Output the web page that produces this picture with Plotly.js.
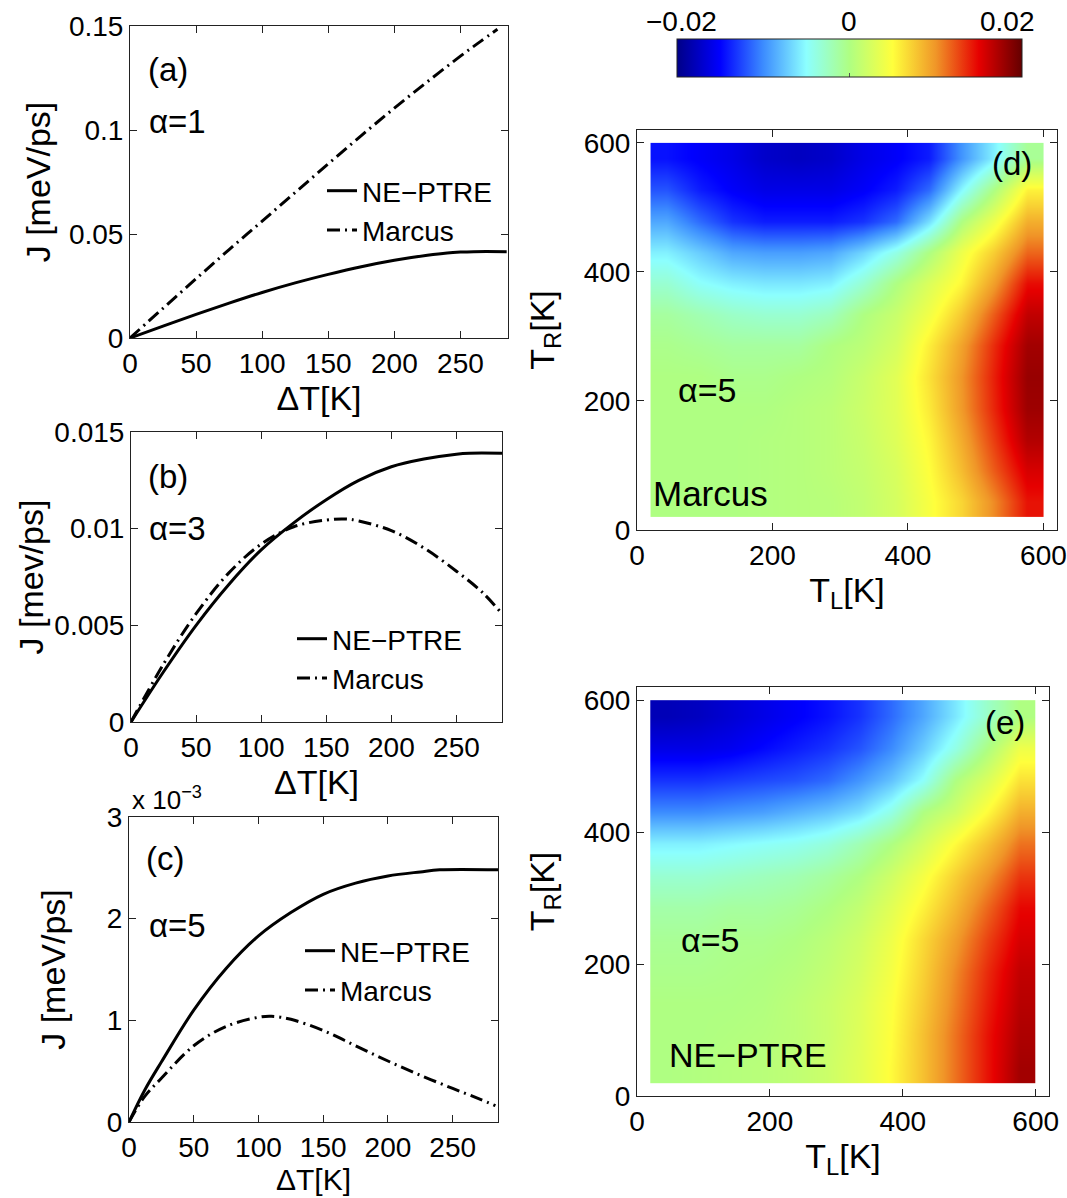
<!DOCTYPE html>
<html><head><meta charset="utf-8">
<script src="https://cdn.plot.ly/plotly-3.0.1.min.js"></script>
<style>html,body{margin:0;padding:0;background:#fff}#chart{width:1067px;height:1198px}</style>
</head><body><div id="chart"></div>
<script>
// ---------- panel (a), alpha = 1 ----------
const dTa_ne = [0, 25, 50, 75, 100, 125, 150, 175, 200, 225, 240, 250, 260, 285];
const Ja_ne  = [0, 0.0057, 0.0114, 0.0168, 0.0219, 0.0265, 0.0306, 0.0343, 0.0374, 0.0398, 0.0409, 0.0413, 0.0415, 0.0415];
const dTa_m  = [0, 25, 50, 75, 100, 125, 150, 175, 200, 225, 250, 265, 278];
const Ja_m   = [0, 0.0143, 0.0285, 0.0425, 0.0562, 0.0700, 0.0837, 0.0973, 0.1105, 0.1232, 0.1355, 0.1425, 0.1484];
// ---------- panel (b), alpha = 3 ----------
const dTb_ne = [0, 25, 50, 75, 100, 125, 150, 175, 200, 225, 250, 260, 285];
const Jb_ne  = [0, 0.0026, 0.0050, 0.0071, 0.0089, 0.0103, 0.0115, 0.0125, 0.0132, 0.0136, 0.01385, 0.0139, 0.0139];
const dTb_m  = [0, 25, 50, 75, 100, 125, 150, 165, 175, 200, 225, 250, 270, 285];
const Jb_m   = [0, 0.0030, 0.0056, 0.0077, 0.0092, 0.0101, 0.01045, 0.0105, 0.0104, 0.0099, 0.0090, 0.0078, 0.0067, 0.0056];
// ---------- panel (c), alpha = 5 ----------
const dTc_ne = [0, 12, 25, 50, 75, 100, 125, 150, 175, 200, 225, 240, 285];
const Jc_ne  = [0, 0.00031, 0.00059, 0.00110, 0.00151, 0.00183, 0.00206, 0.00224, 0.00235, 0.00242, 0.00246, 0.00248, 0.00248];
const dTc_m  = [0, 12, 25, 50, 75, 100, 110, 125, 150, 175, 200, 225, 250, 270, 283];
const Jc_m   = [0, 0.00025, 0.00043, 0.00075, 0.00094, 0.00103, 0.00104, 0.00101, 0.00090, 0.00075, 0.00060, 0.00046, 0.00033, 0.00023, 0.00016];
const Jc_tickvals = [0, 0.001, 0.002, 0.003];
const Jc_ticktext = ['0', '1', '2', '3'];

// ---------- heat maps (d) Marcus, (e) NE-PTRE : cell edges in K ----------
const TL_edges = [20, 68, 117, 165, 213, 262, 310, 358, 407, 455, 503, 552, 600];
const TR_edges = [20, 68, 117, 165, 213, 262, 310, 358, 407, 455, 503, 552, 600];
// rows: T_R from low to high, columns: T_L from low to high
const Z_marcus = [
 [0,0,0,0.0002,0.0004,0.0006,0.0012,0.0024,0.0046,0.0070,0.0104,0.0144],
 [0,0,0,0.0002,0.0004,0.0008,0.0014,0.0026,0.0050,0.0082,0.0120,0.0156],
 [0,0,0,0.0002,0.0004,0.0008,0.0016,0.0030,0.0054,0.0090,0.0130,0.0170],
 [0,0,0,0,0.0004,0.0008,0.0018,0.0032,0.0060,0.0098,0.0138,0.0178],
 [0,0,-0.0004,-0.0004,0,0.0004,0.0016,0.0032,0.0064,0.0100,0.0140,0.0180],
 [-0.0004,-0.0008,-0.0012,-0.0012,-0.0012,0,0.0008,0.0024,0.0058,0.0094,0.0136,0.0176],
 [-0.0012,-0.0020,-0.0028,-0.0032,-0.0032,-0.0024,0,0.0016,0.0042,0.0076,0.0120,0.0164],
 [-0.0032,-0.0048,-0.0056,-0.0060,-0.0060,-0.0056,-0.0032,0,0.0028,0.0054,0.0096,0.0146],
 [-0.0056,-0.0072,-0.0088,-0.0092,-0.0092,-0.0088,-0.0068,-0.0040,0,0.0040,0.0074,0.0116],
 [-0.0088,-0.0112,-0.0132,-0.0140,-0.0140,-0.0140,-0.0132,-0.0112,-0.0064,0,0.0040,0.0088],
 [-0.0120,-0.0140,-0.0152,-0.0160,-0.0160,-0.0160,-0.0152,-0.0140,-0.0112,-0.0052,0,0.0056],
 [-0.0144,-0.0152,-0.0160,-0.0172,-0.0176,-0.0172,-0.0160,-0.0152,-0.0140,-0.0096,-0.0056,-0.0008]
];
const Z_neptre = [
 [0,0.0002,0.0004,0.0006,0.0010,0.0018,0.0032,0.0052,0.0080,0.0112,0.0144,0.0176],
 [0,0,0.0002,0.0004,0.0008,0.0016,0.0030,0.0050,0.0080,0.0112,0.0144,0.0172],
 [0,0,0,0.0002,0.0008,0.0016,0.0028,0.0048,0.0076,0.0108,0.0140,0.0168],
 [-0.0004,-0.0004,-0.0002,0,0.0004,0.0012,0.0024,0.0044,0.0072,0.0104,0.0136,0.0164],
 [-0.0008,-0.0008,-0.0004,-0.0004,0,0.0008,0.0020,0.0040,0.0068,0.0096,0.0128,0.0156],
 [-0.0016,-0.0016,-0.0012,-0.0012,-0.0008,0,0.0012,0.0032,0.0056,0.0084,0.0116,0.0148],
 [-0.0032,-0.0032,-0.0028,-0.0024,-0.0020,-0.0012,0,0.0020,0.0044,0.0072,0.0100,0.0132],
 [-0.0056,-0.0056,-0.0052,-0.0048,-0.0044,-0.0036,-0.0020,0,0.0024,0.0052,0.0080,0.0112],
 [-0.0100,-0.0100,-0.0096,-0.0092,-0.0084,-0.0076,-0.0064,-0.0040,0,0.0020,0.0052,0.0088],
 [-0.0132,-0.0132,-0.0128,-0.0124,-0.0120,-0.0112,-0.0096,-0.0076,-0.0048,0,0.0028,0.0064],
 [-0.0160,-0.0160,-0.0156,-0.0148,-0.0140,-0.0132,-0.0120,-0.0100,-0.0072,-0.0040,0,0.0040],
 [-0.0180,-0.0176,-0.0168,-0.0160,-0.0152,-0.0144,-0.0132,-0.0112,-0.0088,-0.0060,-0.0028,0]
];
const cbar_ticks = [-0.02, 0, 0.02];
const cbar_labels = ['\u22120.02', '0', '0.02'];

// ---------- styling ----------
const FONT = 'Liberation Sans, Arial, Helvetica, sans-serif';
const W = 1067, H = 1198;
const px = v => v / W;
const py = v => 1 - v / H;
const DASHDOT = '13px,5px,2px,5px';
const jet = [[0,'rgb(0,0,135)'],[0.125,'rgb(0,0,255)'],[0.25,'rgb(60,140,255)'],[0.375,'rgb(140,255,255)'],
             [0.5,'rgb(175,255,130)'],[0.625,'rgb(255,255,60)'],[0.75,'rgb(240,150,40)'],[0.875,'rgb(230,0,0)'],[1,'rgb(100,0,0)']];

function lineTrace(x, y, name, dash, xa, ya, leg) {
  return {type:'scatter', mode:'lines', x:x, y:y, name:name, xaxis:xa, yaxis:ya, legend:leg,
          showlegend:true, line:{color:'#000', width:3, dash:dash, shape:'spline', smoothing:1}};
}
const traces = [
  lineTrace(dTa_ne, Ja_ne, 'NE\u2212PTRE', 'solid', 'x', 'y', 'legend'),
  lineTrace(dTa_m, Ja_m, 'Marcus', DASHDOT, 'x', 'y', 'legend'),
  lineTrace(dTb_ne, Jb_ne, 'NE\u2212PTRE', 'solid', 'x2', 'y2', 'legend2'),
  lineTrace(dTb_m, Jb_m, 'Marcus', DASHDOT, 'x2', 'y2', 'legend2'),
  lineTrace(dTc_ne, Jc_ne, 'NE\u2212PTRE', 'solid', 'x3', 'y3', 'legend3'),
  lineTrace(dTc_m, Jc_m, 'Marcus', DASHDOT, 'x3', 'y3', 'legend3'),
  {type:'heatmap', x:TL_edges, y:TR_edges, z:Z_marcus, xaxis:'x4', yaxis:'y4', coloraxis:'coloraxis',
   zsmooth:'best', showlegend:false, hoverinfo:'skip'},
  {type:'heatmap', x:TL_edges, y:TR_edges, z:Z_neptre, xaxis:'x5', yaxis:'y5', coloraxis:'coloraxis',
   zsmooth:'best', showlegend:false, hoverinfo:'skip'}
];

const axBase = {showline:true, mirror:'allticks', linecolor:'#222', linewidth:1, ticks:'inside', ticklen:7,
                tickwidth:1, tickcolor:'#222', showgrid:false, zeroline:false, fixedrange:true,
                tickfont:{family:FONT, size:28, color:'#000'}};
function ax(extra) { return Object.assign({}, axBase, extra); }
function ttl(text, standoff, size) { return {text:text, standoff:standoff, font:{family:FONT, size:size || 34, color:'#000'}}; }

const legBase = {xanchor:'left', yanchor:'top', bgcolor:'rgba(0,0,0,0)', borderwidth:0,
                 font:{family:FONT, size:28, color:'#000'}, tracegroupgap:0};

function ann(text, x, y, size, xanchor) {
  return {text:text, x:px(x), y:py(y), xref:'paper', yref:'paper', showarrow:false,
          xanchor:xanchor || 'left', yanchor:'middle', font:{family:FONT, size:size, color:'#000'}};
}

const layout = {
  width:W, height:H, margin:{l:0, r:0, t:0, b:0}, paper_bgcolor:'#fff', plot_bgcolor:'#fff',
  font:{family:FONT, color:'#000'},
  xaxis:  ax({domain:[px(130), px(508)], anchor:'y',  range:[0, 286], dtick:50, title:ttl('\u0394T[K]', 3)}),
  yaxis:  ax({domain:[py(338), py(26)],  anchor:'x',  range:[0, 0.15], dtick:0.05, title:ttl('J [meV/ps]', 8)}),
  xaxis2: ax({domain:[px(131), px(502)], anchor:'y2', range:[0, 285], dtick:50, title:ttl('\u0394T[K]', 3)}),
  yaxis2: ax({domain:[py(722), py(432)], anchor:'x2', range:[0, 0.015], dtick:0.005, title:ttl('J [mev/ps]', 0)}),
  xaxis3: ax({domain:[px(129), px(498)], anchor:'y3', range:[0, 285], dtick:50, title:ttl('\u0394T[K]', 6, 30)}),
  yaxis3: ax({domain:[py(1122), py(817)], anchor:'x3', range:[0, 0.003], tickvals:Jc_tickvals, ticktext:Jc_ticktext,
              title:ttl('J [meV/ps]', 30)}),
  xaxis4: ax({domain:[px(637), px(1057)], anchor:'y4', range:[0, 620], tickvals:[0,200,400,600],
              title:ttl('T<sub>L</sub>[K]', 2)}),
  yaxis4: ax({domain:[py(530), py(130)], anchor:'x4', range:[0, 620], tickvals:[0,200,400,600],
              title:ttl('T<sub>R</sub>[K]', 18)}),
  xaxis5: ax({domain:[px(637), px(1049)], anchor:'y5', range:[0, 620], tickvals:[0,200,400,600],
              title:ttl('T<sub>L</sub>[K]', 2)}),
  yaxis5: ax({domain:[py(1096), py(687)], anchor:'x5', range:[0, 620], tickvals:[0,200,400,600],
              title:ttl('T<sub>R</sub>[K]', 18)}),
  coloraxis: {colorscale:jet, cmin:-0.02, cmax:0.02,
    colorbar:{orientation:'h', x:px(849.5), xanchor:'center', len:345/W, lenmode:'fraction',
              y:py(39), yanchor:'top', thickness:38, thicknessmode:'pixels', xpad:0, ypad:0,
              outlinewidth:1, outlinecolor:'#222', tickvals:cbar_ticks, ticks:'inside', ticklen:4,
              tickcolor:'#555', showticklabels:false}},
  legend:  Object.assign({}, legBase, {x:px(322), y:py(166)}),
  legend2: Object.assign({}, legBase, {x:px(292), y:py(614)}),
  legend3: Object.assign({}, legBase, {x:px(300), y:py(926)}),
  annotations: [
    ann('(a)', 146, 70, 33), ann('\u03b1=1', 147, 121, 33),
    ann('(b)', 146, 477, 33), ann('\u03b1=3', 147, 528, 33),
    ann('(c)', 144, 858, 33), ann('\u03b1=5', 147, 925, 33),
    ann('x 10<sup>\u22123</sup>', 130, 798, 26),
    ann('(d)', 1012, 163, 33, 'center'), ann('\u03b1=5', 707, 390, 34, 'center'),
    ann('Marcus', 651, 493, 35),
    ann('(e)', 1005, 722, 33, 'center'), ann('\u03b1=5', 710, 940, 34, 'center'),
    ann('NE\u2212PTRE', 667, 1055, 34),
    ann(cbar_labels[0], 681, 21, 28, 'center'), ann(cbar_labels[1], 849, 21, 28, 'center'),
    ann(cbar_labels[2], 1007, 21, 28, 'center')
  ]
};
Plotly.newPlot('chart', traces, layout, {displayModeBar:false, staticPlot:true});
</script></body></html>
